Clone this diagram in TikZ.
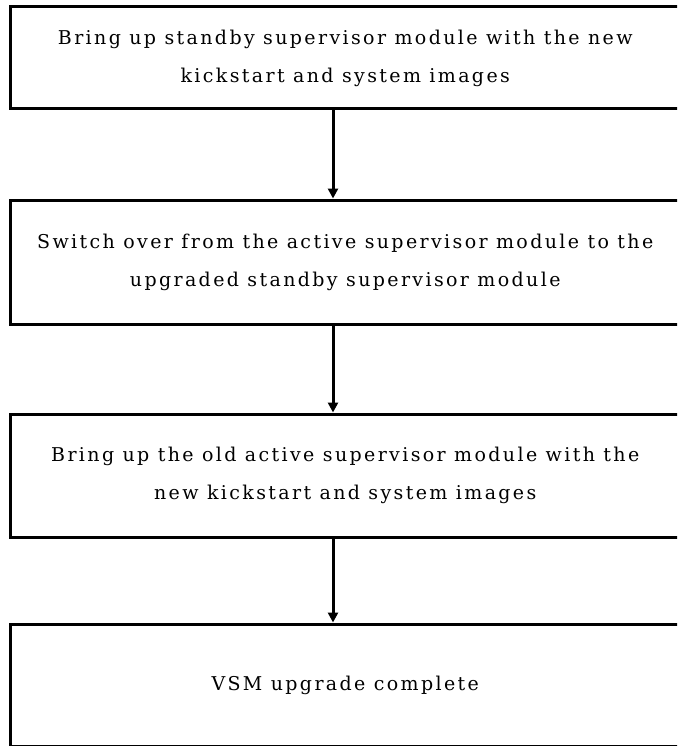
\documentclass[tikz,border=0pt]{standalone}
\usepackage{fontspec}
\newfontfamily\stepfont[LetterSpace=12.5]{DejaVu Serif}
\usetikzlibrary{arrows.meta}

\begin{document}
\begin{tikzpicture}[
    x=1pt,
    y=-1pt,
    stepbox/.style={draw, line width=3pt, minimum width=669.5pt, inner sep=0pt,
      align=center, font=\stepfont\fontsize{19}{38}\selectfont},
    flow/.style={line width=3pt, -{Triangle[width=10pt,length=10pt]}}
]
\clip (0,0) rectangle (677,746);

% the four stages, top to bottom
\node[stepbox, minimum height=102pt] (standby) at (345.25,58)
  {Bring up standby supervisor module with the new\\kickstart and system images};
\node[stepbox, minimum height=124pt] (switch) at (345.25,262)
  {Switch over from the active supervisor module to the\\upgraded standby supervisor module};
\node[stepbox, minimum height=123pt] (oldactive) at (345.25,475.5)
  {Bring up the old active supervisor module with the\\new kickstart and system images};
\node[stepbox, minimum height=122pt] (done) at (345.25,685)
  {VSM upgrade complete};

% arrows run down one line, a bit left of the box centres
\coordinate (spine) at (333,0);
\draw[flow] (standby.south -| spine) -- (switch.north -| spine);
\draw[flow] (switch.south -| spine) -- (oldactive.north -| spine);
\draw[flow] (oldactive.south -| spine) -- (done.north -| spine);
\end{tikzpicture}
\end{document}
